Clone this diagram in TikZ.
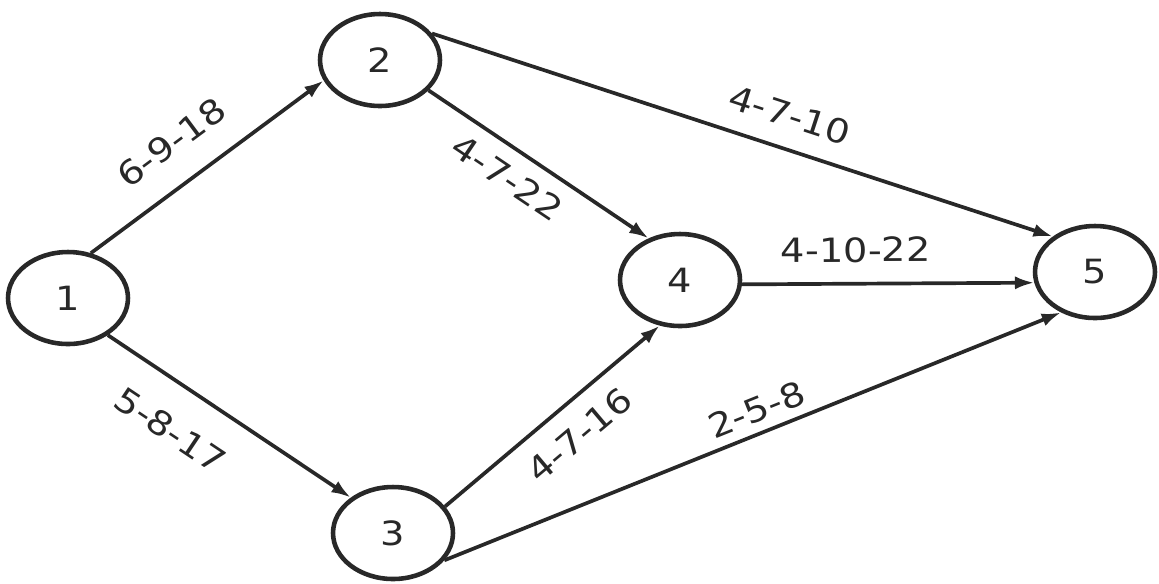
\documentclass[tikz,border=0pt]{standalone}
\usepackage{fontspec}
\usepackage{tikz}
\usetikzlibrary{arrows.meta,shapes.geometric}
\newfontfamily\netfont[FakeStretch=1.15]{DejaVu Sans}
\definecolor{inkcolor}{RGB}{40,40,40}

\begin{document}
\begin{tikzpicture}[x=0.02cm,y=-0.02cm,
  event/.style={ellipse,draw=inkcolor,line width=2.6pt,minimum width=2.4cm,minimum height=1.84cm,
                inner sep=0pt,font=\netfont\fontsize{19}{22}\selectfont,text=inkcolor},
  activity/.style={draw=inkcolor,line width=2.1pt,-{Latex[length=11pt,width=7.5pt]}},
  dur/.style={font=\netfont\fontsize{19}{22}\selectfont,text=inkcolor,inner sep=2pt,sloped}]
\useasboundingbox (0,0) rectangle (1159,583);
% events
\node[event] (e1) at (68,298) {1};
\node[event] (e2) at (380,60) {2};
\node[event] (e3) at (393,533) {3};
\node[event] (e4) at (680,280) {4};
\node[event] (e5) at (1095,272) {5};
% activities
\draw[activity] (e1.63) -- node[dur,pos=0.45,above=13pt]{6-9-18} (e2.200);
\draw[activity] (e1.-43) -- node[dur,pos=0.36,below=15pt]{5-8-17} (e3.140);
\draw[activity] (e2.-32) -- node[dur,pos=0.43,below=6pt]{4-7-22} (e4.127);
\draw[activity] (e2.27) -- node[dur,pos=0.56,above=9pt]{4-7-10} (e5.140);
\draw[activity] (e4.-4) -- node[dur,pos=0.39,above=9pt]{4-10-22} (e5.190);
\draw[activity] (e3.27) -- node[dur,pos=0.53,below=8pt]{4-7-16} (e4.-114);
\draw[activity] (e3.-28) -- node[dur,pos=0.52,above=3pt]{2-5-8} (e5.-130);
\end{tikzpicture}
\end{document}
